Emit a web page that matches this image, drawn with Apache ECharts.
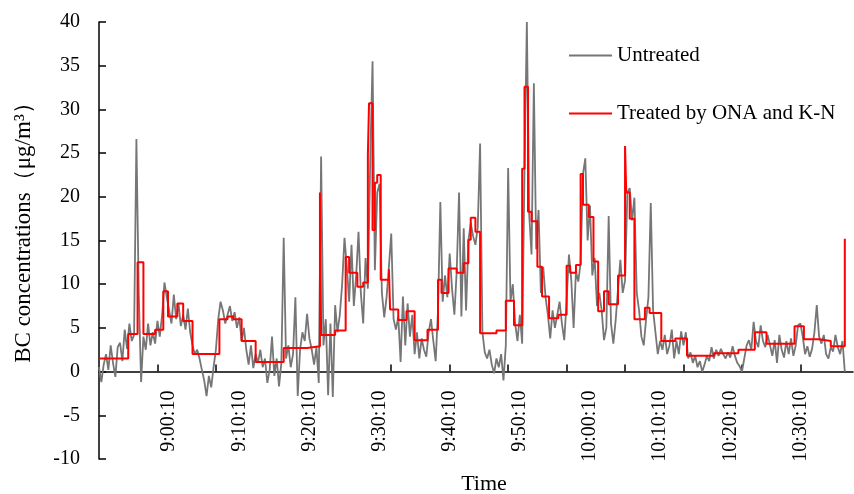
<!DOCTYPE html>
<html>
<head>
<meta charset="utf-8">
<script src="https://cdn.jsdelivr.net/npm/echarts@6/dist/echarts.min.js"></script>
<style>
  html, body { margin: 0; padding: 0; background: #fff; }
  #chart { width: 854px; height: 494px; }
</style>
</head>
<body>
<div id="chart"></div>
<script>
// ---- data ----
const baseTime = '8:50:10';           // time at the left edge of the axis
const sampleStep = 20;                // seconds between untreated samples
const tickLabels = ['9:00:10', '9:10:10', '9:20:10', '9:30:10', '9:40:10', '9:50:10',
                    '10:00:10', '10:10:10', '10:20:10', '10:30:10'];
const tickMarks = [500, 1000, 1500, 2000, 2500, 3000, 3500, 4000, 4500, 5000, 5500, 6000]; // seconds after baseTime

const untreated = [
  0.5, -1.2, 0.8, 2.0, 0.2, 3.0, 1.0, -0.6, 2.8, 3.3,
  1.2, 4.8, 2.6, 5.5, 3.5, 4.2, 26.6, 9.0, -1.2, 4.0,
  2.5, 5.5, 3.0, 4.5, 3.2, 5.8, 4.0, 6.5, 10.2, 8.5,
  7.0, 5.5, 8.8, 6.0, 7.8, 5.2, 6.5, 4.8, 7.2, 4.5,
  3.0, 2.0, 2.5, 1.5, 0.2, -1.0, -2.8, -0.5, -1.8, 0.5,
  2.5, 6.0, 8.0, 7.0, 5.5, 6.5, 7.5, 5.8, 6.8, 5.0,
  6.2, 3.5, 5.0, 2.5, 0.8, 3.0, 0.4, 2.0, 1.0, 2.5,
  0.5, 1.5, -1.3, 0.2, 4.0, -0.5, 1.5, -1.7, 1.0, 15.3,
  1.5, 3.0, 0.5, 2.0, 8.5, -2.8, 2.5, 4.5, 3.5, 6.6,
  3.8, 2.5, 0.8, 2.8, -1.3, 24.6, 3.0, 6.0, -2.7, 5.5,
  -2.9, 7.6, 4.5, 6.5, 10.0, 15.3, 12.0, 8.0, 14.5, 7.5,
  11.0, 16.0, 9.0, 5.5, 13.0, 9.5, 24.0, 35.5, 11.6, 20.5,
  21.5, 9.0, 6.2, 8.5, 12.0, 15.8, 6.0, 4.8, 6.3, 1.1,
  8.6, 3.0, 7.8, 4.0, 6.5, 2.0, 4.5, 1.5, 3.8, 2.5,
  1.7, 4.5, 6.0, 3.5, 1.2, 7.0, 19.4, 8.0, 11.0, 8.5,
  13.5, 9.5, 6.5, 11.5, 20.5, 6.3, 16.4, 7.0, 15.0, 17.0,
  15.5, 14.5, 16.5, 26.1, 4.5, 2.2, 1.5, 2.5, 0.8, -0.2,
  1.5, 0.5, 2.0, -1.0, 3.0, 23.3, 8.0, 10.0, 5.5, 3.5,
  6.5, 3.2, 23.0, 40.0, 18.0, 13.4, 33.0, 14.0, 18.5, 9.0,
  12.0, 8.5, 6.5, 3.8, 7.0, 5.0, 6.5, 8.0, 5.5, 3.6,
  8.0, 13.4, 10.5, 5.0, 11.5, 10.3, 12.5, 22.6, 24.4, 15.0,
  19.0, 11.0, 13.0, 7.5, 9.0, 7.0, 3.6, 5.0, 17.8, 5.5,
  3.2, 5.9, 9.5, 12.8, 9.0, 10.4, 20.5, 21.0, 17.3, 19.9,
  9.0, 7.0, 4.0, 3.0, 6.0, 8.5, 19.3, 7.0, 4.5, 2.0,
  3.5, 2.5, 4.2, 2.0, 3.0, 4.8, 1.5, 3.5, 2.0, 4.6,
  3.0, 4.5, 1.5, 2.2, 1.0, 1.8, 0.5, 1.2, 0.0, 0.8,
  1.8, 1.2, 2.8, 1.5, 2.5, 1.8, 2.6, 2.0, 1.5, 2.2,
  1.6, 2.9, 1.8, 1.0, 0.6, 0.0, 1.5, 3.0, 3.6, 2.5,
  5.7, 3.5, 2.8, 5.3, 3.5, 2.8, 4.2, 3.0, 1.8, 3.6,
  1.0, 4.2, 2.5, 1.6, 3.5, 2.0, 3.8, 1.8, 3.0, 5.3,
  5.5, 4.0, 2.0, 2.9, 1.7, 2.6, 4.5, 7.6, 4.0, 3.2,
  4.2, 2.0, 1.5, 2.8, 2.3, 4.2, 2.8, 2.0, 3.5, 0.0
];

// treated series: level changes (seconds after baseTime) and level values
const treatedTimes = [
  0, 250, 330, 380, 480, 550, 590, 670, 720, 800,
  1030, 1100, 1150, 1220, 1340, 1580, 1780, 1890, 1900, 2020,
  2110, 2140, 2210, 2260, 2300, 2310, 2340, 2360, 2380, 2410,
  2480, 2490, 2560, 2630, 2700, 2810, 2900, 2930, 2990, 3060,
  3120, 3160, 3180, 3220, 3260, 3400, 3480, 3550, 3620, 3640,
  3670, 3700, 3750, 3790, 3850, 3930, 4000, 4030, 4080, 4120,
  4140, 4190, 4230, 4270, 4320, 4360, 4440, 4500, 4510, 4540,
  4580, 4670, 4710, 4810, 4930, 5030, 5260, 5470, 5610, 5710,
  5950, 6030, 6160, 6260, 6380
];
const treatedValues = [
  1.5, 4.3, 12.5, 4.3, 4.8, 9.2, 6.3, 7.8, 5.8, 2.0,
  6.0, 6.3, 6.0, 3.5, 1.1, 2.7, 2.9, 20.5, 4.2, 4.7,
  13.1, 11.3, 9.7, 10.2, 24.8, 30.7, 16.2, 21.6, 22.5, 10.5,
  11.7, 7.1, 5.9, 6.9, 3.6, 4.8, 10.5, 9.0, 11.8, 11.3,
  12.4, 15.1, 17.6, 16.0, 4.4, 4.7, 8.1, 5.3, 23.2, 32.6,
  18.3, 17.2, 12.0, 8.6, 6.1, 6.5, 12.1, 11.3, 12.2, 22.6,
  19.1, 17.7, 12.6, 6.9, 9.2, 7.7, 11.0, 25.8, 20.5, 17.5,
  6.0, 7.3, 6.7, 3.5, 3.8, 1.8, 2.1, 2.5, 4.5, 3.2,
  5.2, 3.7, 3.5, 2.9, 15.2
];

// ---- helpers ----
function toSec(s) {
  const p = s.split(':').map(Number);
  return p[0] * 3600 + p[1] * 60 + p[2];
}
function fmt(sec) {
  const h = Math.floor(sec / 3600);
  const m = Math.floor((sec % 3600) / 60);
  const s = Math.round(sec % 60);
  return h + ':' + String(m).padStart(2, '0') + ':' + String(s).padStart(2, '0');
}
const base = toSec(baseTime);
const labelValues = tickLabels.map(s => toSec(s) - base);
const untreatedData = untreated.map((v, i) => [i * sampleStep, v]);
const treatedData = treatedTimes.map((t, i) => [t, treatedValues[i]]);

const FONT = 'Liberation Serif, Times New Roman, serif';
const GRID_TOP = 22, GRID_BOTTOM = 35, H = 494;
const Y_MIN = -10, Y_MAX = 40;
// distance from the plot bottom up to the y = 0 line
const plotH = H - GRID_TOP - GRID_BOTTOM;
const zeroOffset = -plotH * (0 - Y_MIN) / (Y_MAX - Y_MIN);

const chart = echarts.init(document.getElementById('chart'), null, { renderer: 'canvas' });
chart.setOption({
  backgroundColor: '#fff',
  animation: false,
  grid: { left: 99, right: 1, top: GRID_TOP, bottom: GRID_BOTTOM, containLabel: false, outerBoundsMode: 'none' },
  legend: {
    orient: 'vertical',
    left: 569,
    top: 45,
    padding: 0,
    icon: 'rect',
    itemWidth: 43,
    itemHeight: 2,
    itemGap: 37,
    textStyle: { fontFamily: FONT, fontSize: 21, color: '#000' },
    data: ['Untreated', 'Treated by ONA and K-N']
  },
  xAxis: {
    type: 'value',
    min: 0,
    max: 6450,
    position: 'bottom',
    offset: zeroOffset,
    axisLine: { show: true, onZero: false, lineStyle: { color: '#000', width: 1.5 } },
    axisTick: { show: true, inside: true, length: 7, customValues: tickMarks, lineStyle: { color: '#000', width: 1.5 } },
    axisLabel: {
      customValues: labelValues,
      rotate: 90,
      margin: 19,
      fontFamily: FONT,
      fontSize: 20,
      color: '#000',
      formatter: v => fmt(base + v)
    },
    splitLine: { show: false }
  },
  yAxis: {
    type: 'value',
    min: Y_MIN,
    max: Y_MAX,
    interval: 5,
    axisLine: { show: true, lineStyle: { color: '#000', width: 1.5 } },
    axisTick: { show: true, inside: true, length: 7, lineStyle: { color: '#000', width: 1.5 } },
    axisLabel: { fontFamily: FONT, fontSize: 20, color: '#000', margin: 19 },
    splitLine: { show: false }
  },
  graphic: [
    {
      type: 'text', x: 24, y: 227, rotation: Math.PI / 2,
      style: { text: 'BC concentrations（μg/m³）', fontFamily: FONT, fontSize: 23, fill: '#000',
               align: 'center', verticalAlign: 'middle' }
    },
    {
      type: 'text', x: 484, y: 484,
      style: { text: 'Time', fontFamily: FONT, fontSize: 22, fill: '#000',
               align: 'center', verticalAlign: 'middle' }
    }
  ],
  series: [
    {
      name: 'Untreated',
      type: 'line',
      data: untreatedData,
      symbol: 'none',
      lineStyle: { color: '#767676', width: 1.8 },
      itemStyle: { color: '#767676' },
      z: 2
    },
    {
      name: 'Treated by ONA and K-N',
      type: 'line',
      data: treatedData,
      step: 'end',
      symbol: 'none',
      lineStyle: { color: '#ff0000', width: 2 },
      itemStyle: { color: '#ff0000' },
      z: 3
    }
  ]
});
</script>
</body>
</html>
